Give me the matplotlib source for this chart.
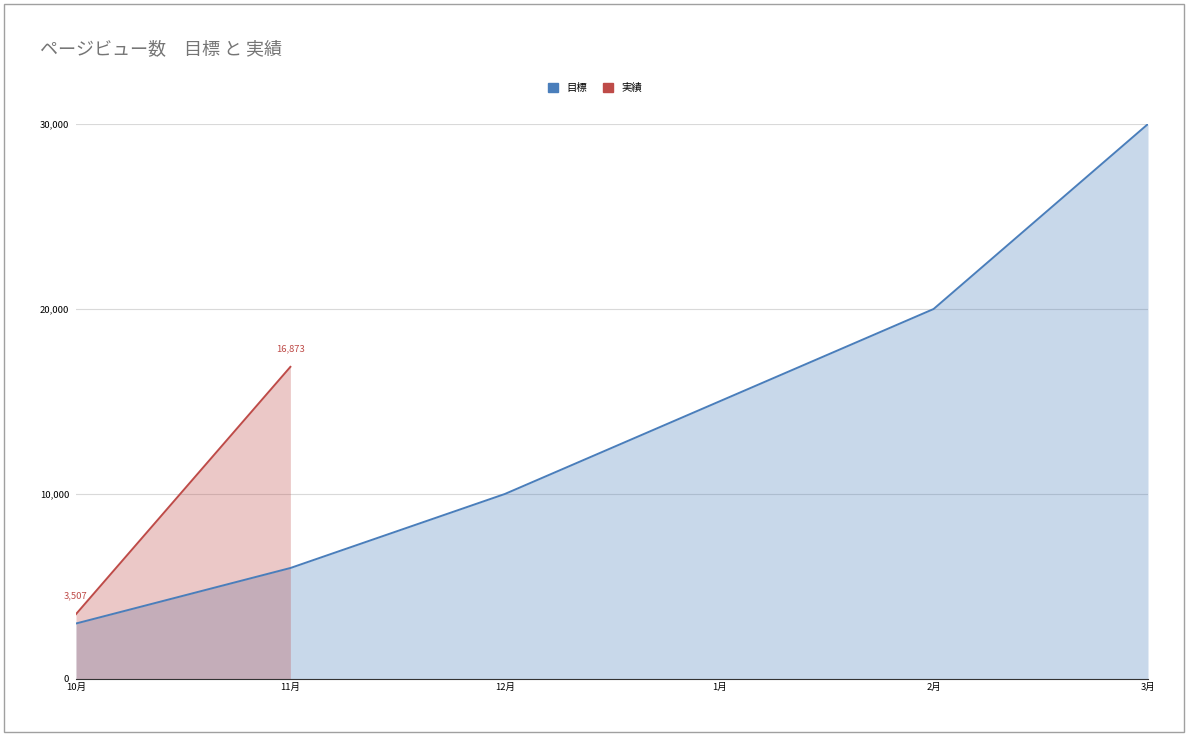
import matplotlib
matplotlib.use("Agg")
import matplotlib.pyplot as plt
from matplotlib.patches import Rectangle

plt.rcParams['font.family'] = ['Noto Sans CJK JP', 'DejaVu Sans']

months = ["10月", "11月", "12月", "1月", "2月", "3月"]
target = [3000, 6000, 10000, 15000, 20000, 30000]
actual = [3507, 16873]
yticks = [0, 10000, 20000, 30000]

blue = "#4a7ebb"
red = "#be4b48"

W, H = 1190, 736
fig = plt.figure(figsize=(W / 100, H / 100), dpi=100)
ax = fig.add_axes([76 / W, 1 - 679 / H, (1148 - 76) / W, (679 - 124) / H])

x = list(range(len(months)))
xa = x[:len(actual)]

ax.fill_between(x, target, 0, color=blue, alpha=0.3, linewidth=0, zorder=2)
ax.plot(x, target, color=blue, linewidth=1.4, zorder=4)
ax.fill_between(xa, actual, 0, color=red, alpha=0.3, linewidth=0, zorder=3)
ax.plot(xa, actual, color=red, linewidth=1.4, zorder=5)

for xi, v in zip(xa, actual):
    ax.annotate(f"{v:,}", (xi, v), xytext=(0, 10), textcoords="offset points",
                ha="center", va="bottom", fontsize=6.8, color=red)

ax.set_xlim(0, len(months) - 1)
ax.set_ylim(0, 30000)
ax.set_xticks(x)
ax.set_xticklabels(months, fontsize=6.8)
ax.set_yticks(yticks)
ax.set_yticklabels([f"{v:,}" for v in yticks], fontsize=6.8)
ax.tick_params(axis='both', length=0, pad=3)
ax.tick_params(axis='y', pad=5)
ax.grid(axis='y', color='#d9d9d9', linewidth=0.8, zorder=0)
for s in ['top', 'right', 'left']:
    ax.spines[s].set_visible(False)
ax.spines['bottom'].set_color('#333333')
ax.spines['bottom'].set_linewidth(0.8)
ax.spines['bottom'].set_zorder(6)
ax.set_axisbelow(True)

fig.text(40 / W, 1 - 49 / H, "ページビュー数　目標 と 実績", fontsize=13.0, color='#757575',
         ha='left', va='center')

handles = [Rectangle((0, 0), 1, 1, color=blue), Rectangle((0, 0), 1, 1, color=red)]
fig.legend(handles, ["目標", "実績"], loc='center', bbox_to_anchor=(595 / W, 1 - 88 / H),
           ncol=2, frameon=False, fontsize=7.5, handlelength=0.9, handleheight=0.9,
           columnspacing=1.6, handletextpad=0.8)

fig.patches.append(Rectangle((4 / W, 4 / H), 1180 / W, 728 / H, transform=fig.transFigure,
                             fill=False, edgecolor='#a0a0a0', linewidth=1))

fig.savefig("out.png", dpi=100)
